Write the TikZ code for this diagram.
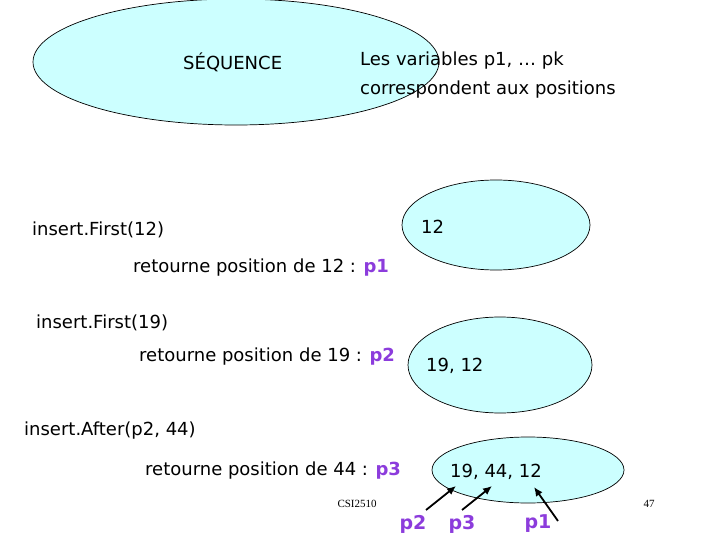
\documentclass[tikz,border=0pt]{standalone}
\usepackage{fontspec}
\usetikzlibrary{arrows.meta}
\setmainfont{DejaVu Sans}
\newfontfamily\smallserif{Liberation Serif}
\definecolor{fillc}{RGB}{204,255,255}
\definecolor{purp}{RGB}{140,60,220}
\begin{document}
\begin{tikzpicture}[x=1pt,y=-1pt,
  txt/.style={font=\fontsize{18}{29}\selectfont,inner sep=0pt},
  lab/.style={font=\fontsize{19}{22}\selectfont\bfseries,text=purp,inner sep=0pt},
  ptr/.style={-{Latex[length=9pt,width=8pt]},line width=1.8pt}]
\useasboundingbox (0,0) rectangle (720,540);
\fill[fillc,draw=black,line width=0.7pt] (236,62) ellipse (203 and 63);
\fill[fillc,draw=black,line width=0.7pt] (496,225) ellipse (94 and 45);
\fill[fillc,draw=black,line width=0.7pt] (500,365) ellipse (92 and 48);
\fill[fillc,draw=black,line width=0.7pt] (528,470) ellipse (96 and 33);
\node[txt,anchor=west] (seq) at (183,62) {SÉQUENCE};
\node[txt,anchor=west,align=left] (vars) at (360,75) {Les variables p1, … pk\\correspondent aux positions};
\node[txt,anchor=west] (i1) at (32,230) {insert.First(12)};
\node[txt,anchor=west] (v1) at (421,227) {12};
\node[txt,anchor=west] (r1) at (133,268) {retourne position de 12 : \textcolor{purp}{\bfseries p1}};
\node[txt,anchor=west] (i2) at (36,323) {insert.First(19)};
\node[txt,anchor=west] (r2) at (139,357) {retourne position de 19 : \textcolor{purp}{\bfseries p2}};
\node[txt,anchor=west] (v2) at (426,366) {19, 12};
\node[txt,anchor=west] (i3) at (24,431) {insert.After(p2, 44)};
\node[txt,anchor=west] (r3) at (145,471) {retourne position de 44 : \textcolor{purp}{\bfseries p3}};
\node[txt,anchor=west] (v3) at (450,472) {19, 44, 12};
\node[font=\smallserif\fontsize{11}{12}\selectfont,anchor=west] (csi) at (334,504) {CSI2510};
\node[font=\smallserif\fontsize{11}{12}\selectfont,anchor=west] (pg) at (640,504) {47};
\node[lab] (p2) at (413,524) {p2};
\node[lab] (p3) at (462,524) {p3};
\node[lab] (p1) at (538,524) {p1};
\coordinate (t2) at (456,486);
\coordinate (t3) at (492,486);
\coordinate (t1) at (534,487);
\draw[ptr] (426,510) -- (t2);
\draw[ptr] (462,510) -- (t3);
\draw[ptr] (558,521) -- (t1);
\end{tikzpicture}
\end{document}
